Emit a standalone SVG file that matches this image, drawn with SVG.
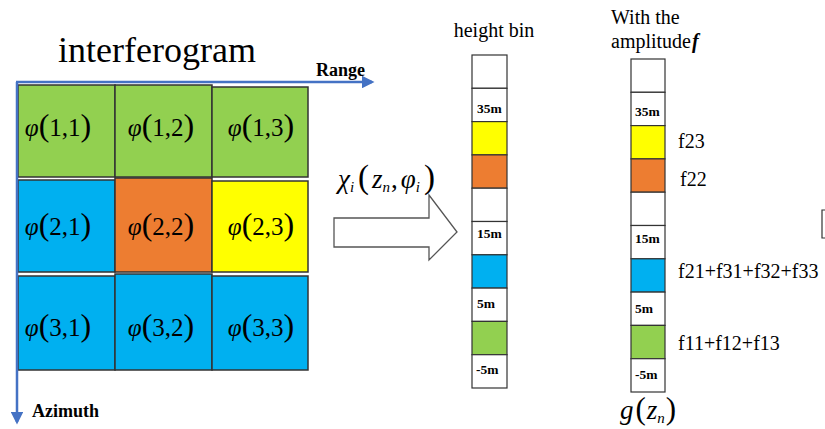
<svg xmlns="http://www.w3.org/2000/svg" width="825" height="429" viewBox="0 0 825 429">
<style>
.serif{font-family:"Liberation Serif","Times New Roman",serif;fill:#000}
.cell{font-family:"Liberation Serif","Times New Roman",serif;font-size:25px;text-anchor:middle}
.par{font-size:32px}
.lbl{font-family:"Liberation Serif","Times New Roman",serif;font-weight:bold;font-size:13.5px}
.bin{stroke:#333;stroke-width:1.2}
.g{fill:#92D050}.b{fill:#00B0F0}.o{fill:#ED7D31}.y{fill:#FFFF00}.w{fill:#fff}
.cellr{stroke:#333;stroke-width:1.5}
</style>
<defs>
<marker id="ah" viewBox="0 0 10 10" refX="8" refY="5" markerWidth="5" markerHeight="5" orient="auto"><path d="M0,0 L10,5 L0,10 z" fill="#4472C4"/></marker>
</defs>
<rect width="825" height="429" fill="#fff"/>
<text class="serif" x="58" y="62" font-size="36">interferogram</text>
<g id="grid">
<rect class="cellr g" x="18" y="85" width="97" height="92"/>
<rect class="cellr g" x="115" y="85" width="97" height="92"/>
<rect class="cellr g" x="212" y="87" width="96" height="90"/>
<rect class="cellr b" x="18" y="180" width="97" height="92"/>
<rect class="cellr o" x="115" y="178" width="97" height="94"/>
<rect class="cellr y" x="212" y="181" width="96" height="91"/>
<rect class="cellr b" x="18" y="276" width="97" height="94"/>
<rect class="cellr b" x="115" y="274" width="97" height="96"/>
<rect class="cellr b" x="212" y="276" width="96" height="94"/>
<text class="cell" x="58" y="136"><tspan font-style="italic">φ</tspan><tspan class="par">(</tspan>1,1<tspan class="par">)</tspan></text>
<text class="cell" x="161" y="136"><tspan font-style="italic">φ</tspan><tspan class="par">(</tspan>1,2<tspan class="par">)</tspan></text>
<text class="cell" x="261" y="136"><tspan font-style="italic">φ</tspan><tspan class="par">(</tspan>1,3<tspan class="par">)</tspan></text>
<text class="cell" x="58" y="235"><tspan font-style="italic">φ</tspan><tspan class="par">(</tspan>2,1<tspan class="par">)</tspan></text>
<text class="cell" x="161" y="235"><tspan font-style="italic">φ</tspan><tspan class="par">(</tspan>2,2<tspan class="par">)</tspan></text>
<text class="cell" x="261" y="235"><tspan font-style="italic">φ</tspan><tspan class="par">(</tspan>2,3<tspan class="par">)</tspan></text>
<text class="cell" x="58" y="336"><tspan font-style="italic">φ</tspan><tspan class="par">(</tspan>3,1<tspan class="par">)</tspan></text>
<text class="cell" x="161" y="336"><tspan font-style="italic">φ</tspan><tspan class="par">(</tspan>3,2<tspan class="par">)</tspan></text>
<text class="cell" x="261" y="336"><tspan font-style="italic">φ</tspan><tspan class="par">(</tspan>3,3<tspan class="par">)</tspan></text>
</g>
<g id="connectors">
<line x1="16" y1="82" x2="372" y2="82" stroke="#4472C4" stroke-width="2.5" marker-end="url(#ah)"/>
<line x1="17" y1="82" x2="17" y2="422" stroke="#4472C4" stroke-width="2.5" marker-end="url(#ah)"/>
<path d="M334,218 L429,218 L429,195 L457,232 L429,260 L429,247 L334,247 Z" fill="#fff" stroke="#555" stroke-width="1.3"/>
</g>
<text class="serif" x="316" y="76" font-size="18" font-weight="bold">Range</text>
<text class="serif" x="32" y="417" font-size="18" font-weight="bold">Azimuth</text>
<text class="serif" x="338" y="188" font-size="27"><tspan font-style="italic">χ</tspan><tspan font-style="italic" font-size="15" dy="4">i</tspan><tspan dy="-4" font-size="33" dx="4">(</tspan><tspan font-style="italic" dx="3">z</tspan><tspan font-style="italic" font-size="15" dy="4">n</tspan><tspan dy="-4" dx="1">,</tspan><tspan font-style="italic" dx="3">φ</tspan><tspan font-style="italic" font-size="15" dy="4">i</tspan><tspan dy="-4" font-size="33" dx="4">)</tspan></text>
<g id="heightbin">
<text class="serif" x="494" y="37" font-size="20" text-anchor="middle">height bin</text>
<rect class="bin w" x="472" y="55" width="35" height="33.3"/>
<rect class="bin w" x="472" y="88.3" width="35" height="33.3"/>
<rect class="bin y" x="472" y="121.6" width="35" height="33.3"/>
<rect class="bin o" x="472" y="154.9" width="35" height="33.3"/>
<rect class="bin w" x="472" y="188.2" width="35" height="33.3"/>
<rect class="bin w" x="472" y="221.5" width="35" height="33.3"/>
<rect class="bin b" x="472" y="254.8" width="35" height="33.3"/>
<rect class="bin w" x="472" y="288.1" width="35" height="33.3"/>
<rect class="bin g" x="472" y="321.4" width="35" height="33.3"/>
<rect class="bin w" x="472" y="354.7" width="35" height="33.3"/>
<text class="lbl" x="477" y="113">35m</text>
<text class="lbl" x="477" y="238">15m</text>
<text class="lbl" x="477" y="308">5m</text>
<text class="lbl" x="476" y="374">-5m</text>
</g>
<g id="amplitude">
<text class="serif" x="611" y="24" font-size="20">With the</text>
<text class="serif" x="611" y="48" font-size="20">amplitude<tspan font-style="italic" font-weight="bold" dx="1">f</tspan></text>
<rect class="bin w" x="631" y="59" width="34" height="33.3"/>
<rect class="bin w" x="631" y="92.3" width="34" height="33.3"/>
<rect class="bin y" x="631" y="125.6" width="34" height="33.3"/>
<rect class="bin o" x="631" y="158.9" width="34" height="33.3"/>
<rect class="bin w" x="631" y="192.2" width="34" height="33.3"/>
<rect class="bin w" x="631" y="225.5" width="34" height="33.3"/>
<rect class="bin b" x="631" y="258.8" width="34" height="33.3"/>
<rect class="bin w" x="631" y="292.1" width="34" height="33.3"/>
<rect class="bin g" x="631" y="325.4" width="34" height="33.3"/>
<rect class="bin w" x="631" y="358.7" width="34" height="33.3"/>
<text class="lbl" x="635" y="116">35m</text>
<text class="lbl" x="635" y="243">15m</text>
<text class="lbl" x="635" y="313">5m</text>
<text class="lbl" x="635" y="379">-5m</text>
<text class="serif" x="678" y="148" font-size="20">f23</text>
<text class="serif" x="680" y="186" font-size="20">f22</text>
<text class="serif" x="678" y="278" font-size="20">f21+f31+f32+f33</text>
<text class="serif" x="678" y="350" font-size="20">f11+f12+f13</text>
<text class="serif" x="620" y="419" font-size="27"><tspan font-style="italic">g</tspan><tspan font-size="31" dx="2">(</tspan><tspan font-style="italic" dx="1">z</tspan><tspan font-style="italic" font-size="15" dy="4">n</tspan><tspan dy="-4" font-size="31" dx="1">)</tspan></text>
</g>
<path d="M825,210 L822,210 L822,238 L825,238" fill="none" stroke="#333" stroke-width="1.2"/>
</svg>
